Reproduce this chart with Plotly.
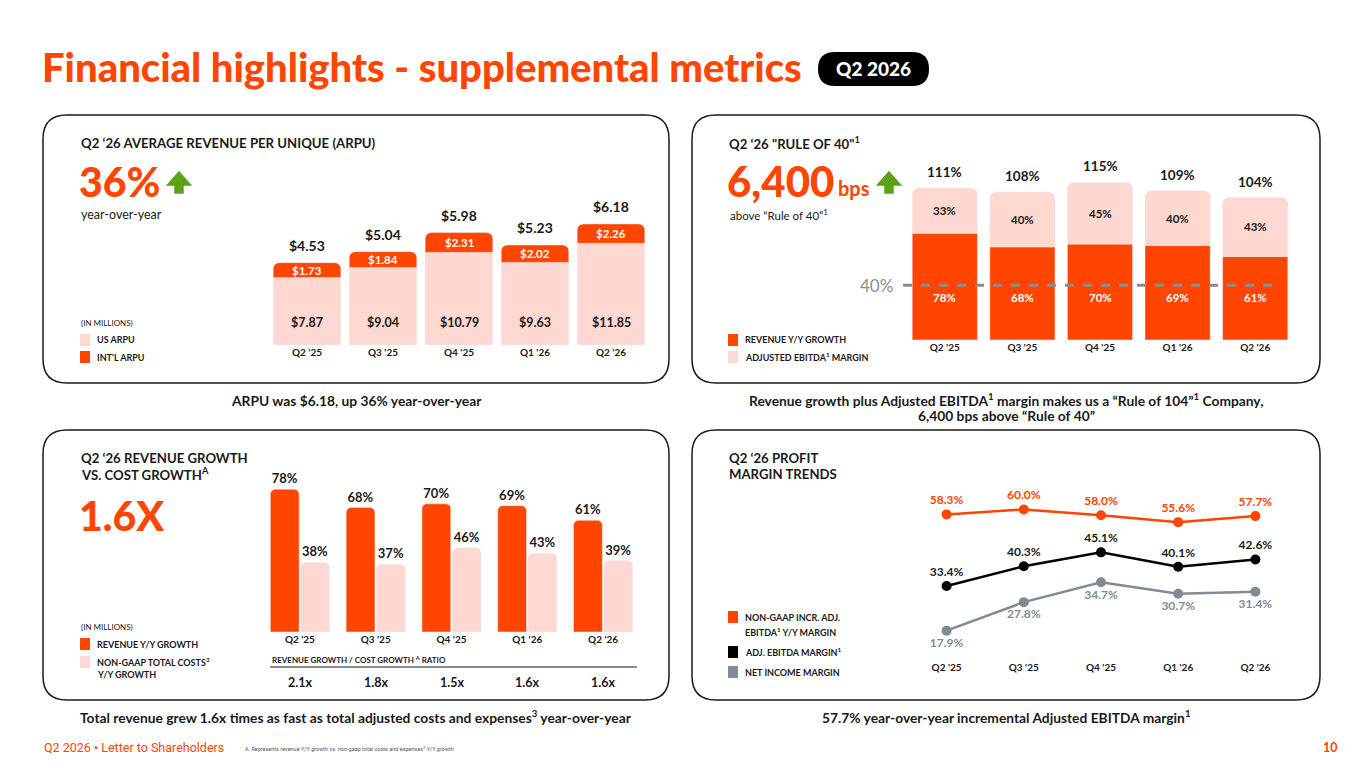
import plotly.graph_objects as go

# the page body keeps an 8px margin, so the figure is drawn 8px in from the corner
OFF = 8
W, H = 1365 - 2 * OFF, 768 - 2 * OFF
ORANGE = "#FF4500"
PINK = "#FFD8D2"
GREEN = "#5AA317"
GRAY = "#7F8C93"
DARK = "#1A1A1A"
FONT = "Lato"

quarters = ["Q2 '25", "Q3 '25", "Q4 '25", "Q1 '26", "Q2 '26"]

# ARPU panel
arpu_total = ["$4.53", "$5.04", "$5.98", "$5.23", "$6.18"]
us_arpu = [7.87, 9.04, 10.79, 9.63, 11.85]
intl_arpu = [1.73, 1.84, 2.31, 2.02, 2.26]

# Rule of 40 panel
rev_growth = [78, 68, 70, 69, 61]
ebitda_margin = [33, 40, 45, 40, 43]
rule_total = [111, 108, 115, 109, 104]

# Revenue vs cost growth panel
cost_growth = [38, 37, 46, 43, 39]
growth_ratio = ["2.1x", "1.8x", "1.5x", "1.6x", "1.6x"]

# Profit margin panel
incr_ebitda = [58.3, 60.0, 58.0, 55.6, 57.7]
adj_ebitda = [33.4, 40.3, 45.1, 40.1, 42.6]
net_income = [17.9, 27.8, 34.7, 30.7, 31.4]


def px(x):
    return (x - OFF) / W


def py(y):
    return 1 - (y - OFF) / H


def rounded_box(x0, y0, x1, y1, r):
    rx, ry = r / W, r / H
    a, b, c, d = px(x0), py(y0), px(x1), py(y1)
    return (f"M {a+rx},{b} L {c-rx},{b} Q {c},{b} {c},{b-ry} "
            f"L {c},{d+ry} Q {c},{d} {c-rx},{d} L {a+rx},{d} "
            f"Q {a},{d} {a},{d+ry} L {a},{b-ry} Q {a},{b} {a+rx},{b} Z")


def up_arrow(cx, top, bottom, color):
    hw, sw = 11.5, 4
    neck = top + 13
    pts = [(cx, top), (cx + hw, neck), (cx + sw, neck), (cx + sw, bottom),
           (cx - sw, bottom), (cx - sw, neck), (cx - hw, neck)]
    path = "M " + " L ".join(f"{px(x)},{py(y)}" for x, y in pts) + " Z"
    return dict(type="path", xref="paper", yref="paper", path=path,
                fillcolor=color, line=dict(color=color, width=1.5))


fig = go.Figure()
shapes = []
ann = []


def text(x, y, s, size=11, color=DARK, weight="bold", xanchor="left", family=FONT):
    ann.append(dict(x=px(x), y=py(y), xref="paper", yref="paper", text=s,
                    showarrow=False, xanchor=xanchor, yanchor="middle",
                    font=dict(size=size, color=color, family=family, weight=weight)))


def legend_item(x, y, color, label, size=9):
    shapes.append(dict(type="rect", xref="paper", yref="paper",
                       x0=px(x), x1=px(x + 10), y0=py(y - 6), y1=py(y + 6),
                       fillcolor=color, line=dict(width=0)))
    text(x + 15, y, label, size=size)


def bar_label(q, y, s, axis, size, color):
    ann.append(dict(x=q, y=y, xref="x" + axis, yref="y" + axis, text=s, showarrow=False,
                    yanchor="middle",
                    font=dict(size=size, color=color, family=FONT, weight="bold")))


# panel frames
for (x0, y0, x1, y1) in [(43, 115, 669, 383), (692, 115, 1320, 383),
                         (43, 430, 669, 700), (692, 430, 1320, 700)]:
    shapes.append(dict(type="path", xref="paper", yref="paper",
                       path=rounded_box(x0, y0, x1, y1, 24),
                       line=dict(color=DARK, width=1.5), fillcolor="rgba(0,0,0,0)"))

# ---------- panel 1: ARPU ----------
fig.add_trace(go.Bar(x=quarters, y=us_arpu, marker_color=PINK, xaxis="x", yaxis="y",
                     width=0.89, hoverinfo="skip"))
fig.add_trace(go.Bar(x=quarters, y=intl_arpu, marker_color=ORANGE, xaxis="x", yaxis="y",
                     width=0.89, marker_cornerradius=6, hoverinfo="skip"))
for q, u, i, t in zip(quarters, us_arpu, intl_arpu, arpu_total):
    ann.append(dict(x=q, y=u + i, xref="x", yref="y", text=t, showarrow=False,
                    yanchor="bottom", yshift=7,
                    font=dict(size=14, color=DARK, family=FONT, weight="bold")))
    bar_label(q, u + i / 2, f"${i:.2f}", "", 11.5, "white")
    bar_label(q, 2.65, f"${u:.2f}", "", 12.5, DARK)

text(79, 143, "Q2 ‘26 AVERAGE REVENUE PER UNIQUE (ARPU)", size=13.2)
text(77, 181, "36%", size=41, color=ORANGE, weight=900)
shapes.append(up_arrow(179, 172, 193, GREEN))
text(79, 214, "year-over-year", size=12.5, weight="normal")
text(79, 323, "(IN MILLIONS)", size=8, weight="normal")
legend_item(80, 340, PINK, "US ARPU")
legend_item(80, 357, ORANGE, "INT'L ARPU")
text(356, 400, "ARPU was $6.18, up 36% year-over-year", size=13.8, xanchor="center")

# ---------- panel 2: Rule of 40 ----------
fig.add_trace(go.Bar(x=quarters, y=rev_growth, marker_color=ORANGE, xaxis="x2", yaxis="y2",
                     width=0.84, hoverinfo="skip"))
fig.add_trace(go.Bar(x=quarters, y=ebitda_margin, marker_color=PINK, xaxis="x2", yaxis="y2",
                     width=0.84, marker_cornerradius=6, hoverinfo="skip"))
for q, r, e, t in zip(quarters, rev_growth, ebitda_margin, rule_total):
    ann.append(dict(x=q, y=t, xref="x2", yref="y2", text=f"{t}%", showarrow=False,
                    yanchor="bottom", yshift=6,
                    font=dict(size=13.5, color=DARK, family=FONT, weight="bold")))
    bar_label(q, r + e / 2, f"{e}%", "2", 11.5, DARK)
    bar_label(q, 31, f"{r}%", "2", 11.5, "white")
shapes.append(dict(type="line", xref="paper", yref="y2", x0=px(903), x1=px(1273),
                   y0=40, y1=40, line=dict(color="#8C8C8C", width=3, dash="dash")))
text(876, 285, "40%", size=17, color="#8C8C8C", weight="normal", xanchor="center")

text(727, 143, "Q2 ‘26 \"RULE OF 40\"<sup>1</sup>", size=13.2)
text(725, 181, "6,400", size=42, color=ORANGE, weight=900)
text(836, 188, "bps", size=20, color=ORANGE)
shapes.append(up_arrow(889, 172, 193, GREEN))
text(728, 214, "above “Rule of 40”<sup>1</sup>", size=11.5, weight="normal")
legend_item(728, 340, ORANGE, "REVENUE Y/Y GROWTH")
legend_item(728, 357, PINK, "ADJUSTED EBITDA<sup>1</sup> MARGIN")
text(1006, 399, "Revenue growth plus Adjusted EBITDA<sup>1</sup> margin makes us a “Rule of 104”<sup>1</sup> Company,",
     size=13.8, xanchor="center")
text(1006, 415, "6,400 bps above “Rule of 40”", size=13.8, xanchor="center")

# ---------- panel 3: revenue vs cost growth ----------
fig.add_trace(go.Bar(x=quarters, y=rev_growth, marker_color=ORANGE, xaxis="x3", yaxis="y3",
                     text=[f"{v}%" for v in rev_growth], textposition="outside",
                     textfont=dict(color=DARK, size=13, family=FONT, weight="bold"),
                     cliponaxis=False, marker_cornerradius=5, hoverinfo="skip"))
fig.add_trace(go.Bar(x=quarters, y=cost_growth, marker_color=PINK, xaxis="x3", yaxis="y3",
                     text=[f"{v}%" for v in cost_growth], textposition="outside",
                     textfont=dict(color=DARK, size=13, family=FONT, weight="bold"),
                     cliponaxis=False, marker_cornerradius=5, hoverinfo="skip"))
for q, r in zip(quarters, growth_ratio):
    ann.append(dict(x=q, y=py(682), xref="x3", yref="paper", text=r, showarrow=False,
                    yanchor="middle",
                    font=dict(size=12.5, color=DARK, family=FONT, weight="bold")))
text(270, 659, "REVENUE GROWTH / COST GROWTH <sup>A</sup> RATIO", size=8)
shapes.append(dict(type="line", xref="paper", yref="paper", x0=px(270), x1=px(637),
                   y0=py(667), y1=py(667), line=dict(color="#8C8C8C", width=2)))

text(79, 458, "Q2 ‘26 REVENUE GROWTH", size=13.2)
text(79, 474, "VS. COST GROWTH<sup>A</sup>", size=13.2)
text(77, 515, "1.6X", size=41, color=ORANGE, weight=900)
text(79, 627, "(IN MILLIONS)", size=8, weight="normal")
legend_item(80, 644, ORANGE, "REVENUE Y/Y GROWTH")
legend_item(80, 662, PINK, "NON-GAAP TOTAL COSTS<sup>3</sup>")
text(95, 674, "Y/Y GROWTH", size=9)
text(356, 716, "Total revenue grew 1.6x times as fast as total adjusted costs and expenses<sup>3</sup> year-over-year",
     size=13.8, xanchor="center")

# ---------- panel 4: profit margins ----------
line_series = [(incr_ebitda, ORANGE, "top center", ORANGE),
               (adj_ebitda, "black", "top center", DARK),
               (net_income, GRAY, "bottom center", GRAY)]
for vals, col, pos, tcol in line_series:
    fig.add_trace(go.Scatter(x=quarters, y=vals, mode="lines+markers+text", xaxis="x4", yaxis="y4",
                             line=dict(color=col, width=2.5), marker=dict(size=10, color=col),
                             text=[f"{v:.1f}%" for v in vals], textposition=pos,
                             textfont=dict(color=tcol, size=12, family=FONT, weight="bold"),
                             cliponaxis=False, hoverinfo="skip"))

text(727, 458, "Q2 ‘26 PROFIT", size=13.2)
text(727, 474, "MARGIN TRENDS", size=13.2)
legend_item(728, 617, ORANGE, "NON-GAAP INCR. ADJ.")
text(743, 632, "EBITDA<sup>1</sup> Y/Y MARGIN", size=9)
legend_item(728, 652, "black", "ADJ. EBITDA MARGIN<sup>1</sup>")
legend_item(728, 672, GRAY, "NET INCOME MARGIN")
text(1006, 716, "57.7% year-over-year incremental Adjusted EBITDA margin<sup>1</sup>", size=13.8, xanchor="center")

# ---------- header / footer ----------
text(40, 67, "Financial highlights - supplemental metrics", size=40, color=ORANGE, weight=900)
shapes.append(dict(type="path", xref="paper", yref="paper",
                   path=rounded_box(818, 52, 929, 86, 17), fillcolor="black", line=dict(width=0)))
text(873, 69, "Q2 2026", size=19, color="white", xanchor="center", weight=900)
text(42, 747, "Q2 2026 • Letter to Shareholders", size=12.5, color=ORANGE, weight="normal", family="Roboto")
text(243, 748, "A. Represents revenue Y/Y growth vs. non-gaap total costs and expenses<sup>3</sup> Y/Y growth",
     size=5.5, color="#555", weight="normal", family="Roboto")
text(1340, 747, "10", size=12.5, color=ORANGE, xanchor="right")


def xaxis(x0, x1, y_anchor, rng=None):
    d = dict(domain=[px(x0), px(x1)], anchor=y_anchor, showgrid=False, zeroline=False,
             showline=False, ticks="", tickfont=dict(size=10, color=DARK, family=FONT, weight="bold"),
             fixedrange=True)
    if rng:
        d["range"] = rng
    return d


def yaxis(y_bottom, y_top, rng, x_anchor):
    return dict(domain=[py(y_bottom), py(y_top)], range=rng, anchor=x_anchor, visible=False,
                showgrid=False, zeroline=False, fixedrange=True)


fig.update_layout(
    width=W, height=H, margin=dict(l=0, r=0, t=0, b=0),
    paper_bgcolor="white", plot_bgcolor="rgba(0,0,0,0)",
    showlegend=False, barmode="relative",
    font=dict(family=FONT, color=DARK),
    xaxis=xaxis(269, 649, "y"),
    yaxis=yaxis(345, 200, [0, 16.9], "x"),
    xaxis2=xaxis(906, 1294, "y2"),
    yaxis2=yaxis(340, 150, [0, 138.7], "x2"),
    xaxis3=xaxis(262, 641, "y3"),
    yaxis3=yaxis(632, 470, [0, 88.5], "x3"),
    xaxis4=xaxis(908, 1294, "y4", rng=[-0.5, 4.5]),
    yaxis4=yaxis(660, 500, [7.7, 63.3], "x4"),
    shapes=shapes, annotations=ann,
)
# grouped bars for panel 3 need their own offsets
fig.data[4].update(offsetgroup="rev", width=0.38, offset=-0.39)
fig.data[5].update(offsetgroup="cost", width=0.38, offset=0.01)

fig.write_html("out.html")
